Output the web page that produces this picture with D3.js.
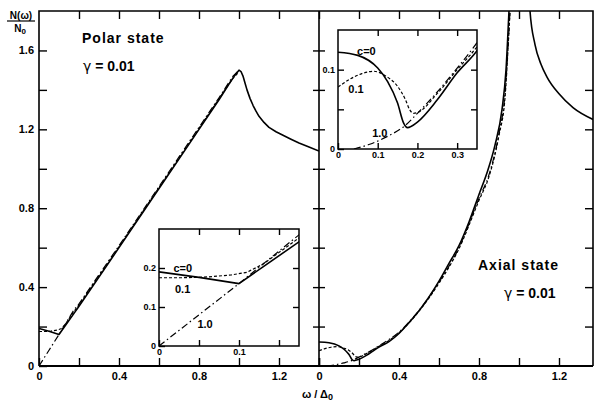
<!DOCTYPE html>
<html>
<head>
<meta charset="utf-8">
<script src="https://cdn.jsdelivr.net/npm/d3@7"></script>
<style>
    body { margin: 0; background: #fff; }
    svg { display: block; }
    text { font-family: 'Liberation Sans', Arial, sans-serif; font-weight: bold; fill: #000; }
</style>
</head>
<body>
<svg id="chart" width="594" height="404"></svg>
<script>
// Density of states: [omega/Delta0, N/N0]
const polarC0 = [[0, 0.19], [0.05, 0.176], [0.1, 0.16], [0.13, 0.203], [0.175, 0.267], [0.2, 0.303],
    [0.4, 0.6], [0.6, 0.9], [0.8, 1.2], [0.9, 1.35], [0.95, 1.43], [0.98, 1.475], [1.0, 1.5],
    [1.01, 1.493], [1.02, 1.47], [1.03, 1.435], [1.04, 1.40], [1.055, 1.357], [1.07, 1.322],
    [1.085, 1.292], [1.1, 1.266], [1.125, 1.235], [1.15, 1.21], [1.185, 1.188], [1.22, 1.17],
    [1.26, 1.15], [1.3, 1.131], [1.35, 1.11], [1.4, 1.09]];
const polarC01 = [[0, 0.175], [0.03, 0.175], [0.06, 0.177], [0.09, 0.182], [0.11, 0.189], [0.13, 0.21],
    [0.175, 0.277], [0.2, 0.31], [0.4, 0.605], [0.6, 0.905], [0.8, 1.205], [0.9, 1.355], [0.97, 1.46], [1.0, 1.49]];
const polarC10 = [[0, 0], [0.05, 0.08], [0.1, 0.16], [0.175, 0.285], [0.2, 0.315], [0.4, 0.61],
    [0.6, 0.91], [0.8, 1.21], [0.9, 1.36], [0.97, 1.47], [1.0, 1.5]];

const axialC0 = [[0, 0.122], [0.05, 0.118], [0.1, 0.102], [0.125, 0.085], [0.15, 0.058], [0.165, 0.033],
    [0.175, 0.027], [0.2, 0.034], [0.25, 0.062], [0.3, 0.096], [0.35, 0.124], [0.4, 0.165], [0.45, 0.22],
    [0.5, 0.28], [0.55, 0.35], [0.6, 0.43], [0.65, 0.52], [0.7, 0.61], [0.75, 0.73], [0.8, 0.87],
    [0.84, 0.98], [0.88, 1.12], [0.915, 1.30], [0.935, 1.5], [0.95, 1.8], [0.965, 2.1], [1.0, 3.0],
    [1.04, 2.1], [1.055, 1.8], [1.08, 1.63], [1.11, 1.53], [1.14, 1.465], [1.2, 1.38], [1.27, 1.31],
    [1.37, 1.25]];
const axialC01 = [[0, 0.078], [0.03, 0.088], [0.06, 0.095], [0.09, 0.098], [0.12, 0.092], [0.15, 0.079],
    [0.17, 0.062], [0.18, 0.05], [0.19, 0.045], [0.2, 0.046], [0.25, 0.07], [0.3, 0.1], [0.35, 0.129],
    [0.4, 0.168], [0.5, 0.278], [0.6, 0.42], [0.7, 0.595], [0.8, 0.84], [0.85, 0.96], [0.9, 1.17],
    [0.93, 1.36], [0.955, 1.8], [0.97, 2.1]];
const axialC10 = [[0.04, 0], [0.08, 0.006], [0.125, 0.016], [0.17, 0.03], [0.2, 0.045], [0.25, 0.072],
    [0.3, 0.102], [0.35, 0.134], [0.4, 0.172], [0.5, 0.282], [0.6, 0.425], [0.7, 0.6], [0.8, 0.85],
    [0.85, 0.97], [0.9, 1.18], [0.93, 1.38], [0.955, 1.8], [0.97, 2.1]];

// Tick labels
const mainXLabels = [0, 0.4, 0.8, 1.2];
const mainYLabels = [0, 0.4, 0.8, 1.2, 1.6];
const polarInsetXLabels = [0, 0.1];
const polarInsetYLabels = [0, 0.1, 0.2];
const axialInsetXLabels = [0, 0.1, 0.2, 0.3];
const axialInsetYLabels = [0, 0.1];
const curveLabels = ['c=0', '0.1', '1.0'];

const svg = d3.select('#chart');

// Main scales
const xL = d3.scaleLinear().domain([0, 1.4]).range([39, 319]);
const xR = d3.scaleLinear().domain([0, 1.37]).range([319, 593]);
const y = d3.scaleLinear().domain([0, 1.8]).range([366, 11]);

const steps = (n, d) => d3.range(0, n + 1).map(i => +(i * d).toFixed(2));
const fmt = list => d => list.includes(d) ? String(d) : '';

function styleAxis(g, size) {
    g.select('.domain').remove();
    g.selectAll('line').attr('stroke', '#000').attr('stroke-width', 1.4);
    g.selectAll('text').style('font-size', size + 'px').attr('fill', '#000');
}

function drawCurves(g, xs, ys, sets, curve) {
    const line = d3.line().x(d => xs(d[0])).y(d => ys(d[1])).curve(curve);
    sets.forEach(s => {
        g.append('path')
            .attr('d', line(s.data))
            .attr('fill', 'none')
            .attr('stroke', '#000')
            .attr('stroke-width', s.w)
            .attr('stroke-linejoin', 'round')
            .attr('stroke-dasharray', s.dash);
    });
}

function clip(id, x0, y0, w, h) {
    svg.append('clipPath').attr('id', id)
        .append('rect').attr('x', x0).attr('y', y0).attr('width', w).attr('height', h);
}

// Clip areas
clip('clipL', 39, 11, 280, 355);
clip('clipR', 319, 11, 274, 355);

const polarSets = [
    { data: polarC10, dash: '7,3,1.5,3', w: 1.2 },
    { data: polarC01, dash: '3,2', w: 1.2 },
    { data: polarC0, dash: null, w: 1.6 }
];
const axialSets = [
    { data: axialC10, dash: '7,3,1.5,3', w: 1.2 },
    { data: axialC01, dash: '3,2', w: 1.2 },
    { data: axialC0, dash: null, w: 1.6 }
];

// Curves in the main panels (polar has sharp kinks, axial is smooth)
drawCurves(svg.append('g').attr('clip-path', 'url(#clipL)'), xL, y, polarSets, d3.curveLinear);
drawCurves(svg.append('g').attr('clip-path', 'url(#clipR)'), xR, y, axialSets, d3.curveMonotoneX);

// Ticks of the main frame
const xTicksL = steps(7, 0.2);
const xTicksR = steps(6, 0.2);
const yTicks = steps(8, 0.2);

svg.append('g').attr('transform', 'translate(0,366)')
    .call(d3.axisBottom(xL).tickValues(xTicksL).tickSize(-8).tickPadding(6).tickFormat(fmt(mainXLabels)))
    .call(g => styleAxis(g, 11));
svg.append('g').attr('transform', 'translate(0,366)')
    .call(d3.axisBottom(xR).tickValues(xTicksR).tickSize(-8).tickPadding(6).tickFormat(fmt(mainXLabels)))
    .call(g => styleAxis(g, 11));
svg.append('g').attr('transform', 'translate(0,11)')
    .call(d3.axisTop(xL).tickValues(xTicksL.slice(1)).tickSize(-8).tickFormat(''))
    .call(g => styleAxis(g, 11));
svg.append('g').attr('transform', 'translate(0,11)')
    .call(d3.axisTop(xR).tickValues(xTicksR.slice(1)).tickSize(-8).tickFormat(''))
    .call(g => styleAxis(g, 11));
svg.append('g').attr('transform', 'translate(39,0)')
    .call(d3.axisLeft(y).tickValues(yTicks).tickSize(-8).tickPadding(5).tickFormat(fmt(mainYLabels)))
    .call(g => styleAxis(g, 11));
svg.append('g').attr('transform', 'translate(319,0)')
    .call(d3.axisLeft(y).tickValues(yTicks.slice(1)).tickSize(6).tickFormat(''))
    .call(g => styleAxis(g, 11));
svg.append('g').attr('transform', 'translate(319,0)')
    .call(d3.axisRight(y).tickValues(yTicks.slice(1)).tickSize(6).tickFormat(''))
    .call(g => styleAxis(g, 11));
svg.append('g').attr('transform', 'translate(593,0)')
    .call(d3.axisRight(y).tickValues(yTicks.slice(1)).tickSize(-8).tickFormat(''))
    .call(g => styleAxis(g, 11));

// Frame lines
svg.append('path')
    .attr('d', 'M39,366 V11 H593 V366 M319,11 V366')
    .attr('fill', 'none').attr('stroke', '#000').attr('stroke-width', 1.6);
svg.append('line')
    .attr('x1', 39).attr('x2', 593).attr('y1', 366).attr('y2', 366)
    .attr('stroke', '#000').attr('stroke-width', 2.2);

// Inset panel with its own axes
function inset(id, xs, ys, sets, curve, xTicks, yTicks, xLabels, yLabels, labelPos) {
    const [x0, x1] = xs.range();
    const [y1, y0] = ys.range();
    clip(id, x0, y0, x1 - x0, y1 - y0);
    const g = svg.append('g');
    g.append('rect').attr('x', x0).attr('y', y0).attr('width', x1 - x0).attr('height', y1 - y0)
        .attr('fill', '#fff');
    drawCurves(g.append('g').attr('clip-path', `url(#${id})`), xs, ys, sets, curve);

    g.append('g').attr('transform', `translate(0,${y1})`)
        .call(d3.axisBottom(xs).tickValues(xTicks).tickSize(-6).tickPadding(3).tickFormat(fmt(xLabels)))
        .call(a => styleAxis(a, 9));
    g.append('g').attr('transform', `translate(0,${y0})`)
        .call(d3.axisTop(xs).tickValues(xTicks.slice(1)).tickSize(-6).tickFormat(''))
        .call(a => styleAxis(a, 9));
    g.append('g').attr('transform', `translate(${x0},0)`)
        .call(d3.axisLeft(ys).tickValues(yTicks).tickSize(-6).tickPadding(3).tickFormat(fmt(yLabels)))
        .call(a => styleAxis(a, 9));
    g.append('g').attr('transform', `translate(${x1},0)`)
        .call(d3.axisRight(ys).tickValues(yTicks.slice(1)).tickSize(-6).tickFormat(''))
        .call(a => styleAxis(a, 9));
    g.append('rect').attr('x', x0).attr('y', y0).attr('width', x1 - x0).attr('height', y1 - y0)
        .attr('fill', 'none').attr('stroke', '#000').attr('stroke-width', 1.5);

    curveLabels.forEach((t, i) => {
        g.append('text')
            .attr('x', xs(labelPos[i][0]))
            .attr('y', ys(labelPos[i][1]))
            .style('font-size', '11px')
            .text(t);
    });
}

inset('clipPI',
    d3.scaleLinear().domain([0, 0.175]).range([159, 299]),
    d3.scaleLinear().domain([0, 0.3]).range([346, 229]),
    polarSets, d3.curveLinear, [0, 0.05, 0.1, 0.15], [0, 0.1, 0.2], polarInsetXLabels, polarInsetYLabels,
    [[0.018, 0.19], [0.02, 0.136], [0.048, 0.046]]);

inset('clipAI',
    d3.scaleLinear().domain([0, 0.35]).range([338, 477]),
    d3.scaleLinear().domain([0, 0.15]).range([149, 30]),
    axialSets, d3.curveMonotoneX, [0, 0.1, 0.2, 0.3], [0, 0.05, 0.1], axialInsetXLabels, axialInsetYLabels,
    [[0.048, 0.118], [0.026, 0.07], [0.086, 0.015]]);

// Panel titles (gamma from DejaVu so it does not read as "y")
const gammaText = '<tspan font-family="DejaVu Sans" font-weight="normal">γ</tspan> = 0.01';
svg.append('text').attr('x', 82).attr('y', 43).style('font-size', '14px')
    .attr('letter-spacing', 1).text('Polar state');
svg.append('text').attr('x', 83).attr('y', 71).style('font-size', '14px').html(gammaText);
svg.append('text').attr('x', 478).attr('y', 270).style('font-size', '14px')
    .attr('letter-spacing', 1).text('Axial state');
svg.append('text').attr('x', 504).attr('y', 298).style('font-size', '14px').html(gammaText);

// Axis titles
const yTitle = svg.append('g');
yTitle.append('text').attr('x', 21).attr('y', 19).attr('text-anchor', 'middle')
    .style('font-size', '10px').text('N(ω)');
yTitle.append('line').attr('x1', 7).attr('x2', 35).attr('y1', 21).attr('y2', 21)
    .attr('stroke', '#000').attr('stroke-width', 1.2);
yTitle.append('text').attr('x', 20).attr('y', 32).attr('text-anchor', 'middle')
    .style('font-size', '10px').html('N<tspan dy="2" font-size="8px">0</tspan>');

svg.append('text').attr('x', 302).attr('y', 398).style('font-size', '11px')
    .html('ω / Δ<tspan dy="2" font-size="9px">0</tspan>');
</script>
</body>
</html>
